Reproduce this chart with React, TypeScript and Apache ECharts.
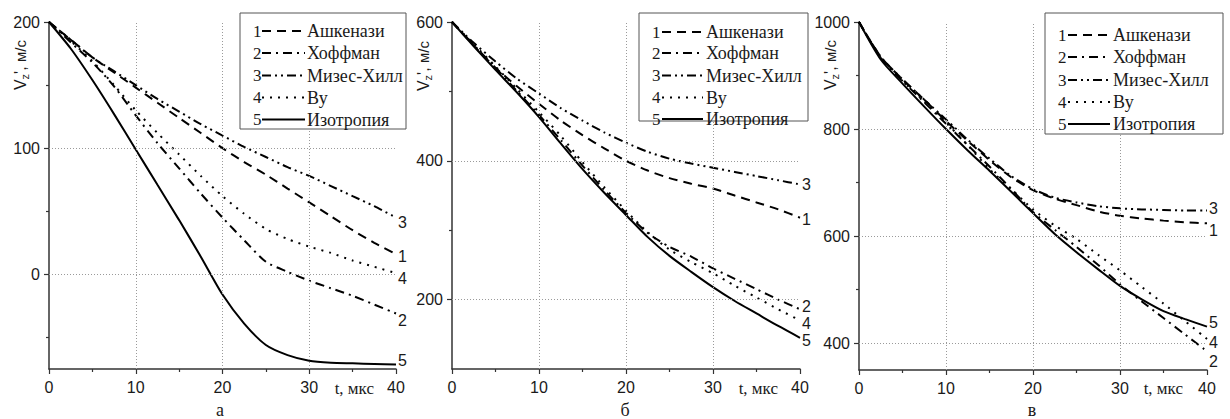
import React, { useEffect, useRef } from "react";
import * as echarts from "echarts";

// ---- data ----
const T = [0, 2.5, 5, 7.5, 10, 12.5, 15, 17.5, 20, 22.5, 25, 27.5, 30, 32.5, 35, 37.5, 40];
const NAMES = ["Ашкенази", "Хоффман", "Мизес-Хилл", "Ву", "Изотропия"];
const NUMS = ["1", "2", "3", "4", "5"];
const X_LABELS = [0, 10, 20, 30, 40];
const X_GRID = [10, 20, 30];
const PANEL_LETTERS = ["а", "б", "в"];
const X_TITLE = "t, мкс";

// panel а
const A1 = [200, 186, 172, 160, 148, 136, 124, 112, 100, 89, 79, 68, 57, 46, 35, 25, 16];
const A2 = [200, 184, 168, 149, 126, 104, 84, 64, 45, 27, 10, 2, -5, -11, -17, -24, -31];
const A3 = [200, 186, 172, 161, 150, 139, 129, 119, 110, 101, 93, 85, 78, 70, 62, 54, 45];
const A4 = [200, 185, 169, 150, 130, 112, 95, 78, 62, 48, 36, 28, 22, 17, 11, 6, 1];
const A5 = [200, 179, 154, 127, 99, 71, 43, 14, -16, -39, -56, -64, -68.5, -70, -70.5, -71, -71.5];
const A_Y_MAJOR = [0, 100, 200];
const A_Y_MINOR = [-50, 50, 150];
const A_Y_GRID = [0, 100];

// panel б
const B1 = [600, 566, 534, 507, 482, 458, 437, 418, 400, 386, 375, 367, 360, 350, 340, 330, 318];
const B2 = [600, 567, 534, 500, 466, 430, 393, 358, 325, 296, 276, 262, 245, 230, 215, 200, 186];
const B3 = [600, 570, 543, 518, 497, 476, 458, 441, 426, 413, 403, 396, 390, 384, 378, 372, 366];
const B4 = [600, 568, 536, 503, 470, 436, 398, 362, 328, 297, 272, 254, 238, 220, 203, 186, 170];
const B5 = [600, 565, 531, 498, 463, 425, 388, 354, 322, 290, 263, 240, 218, 198, 180, 162, 145];
const B_Y_MAJOR = [200, 400, 600];
const B_Y_MINOR = [300, 500];
const B_Y_GRID = [200, 400];

// panel в
const C1 = [1000, 935, 893, 855, 815, 778, 742, 710, 686, 670, 658, 646, 638, 633, 629, 626, 624];
const C2 = [1000, 933, 890, 850, 810, 770, 730, 688, 645, 612, 580, 546, 510, 478, 447, 416, 385];
const C3 = [1000, 935, 893, 855, 818, 780, 745, 712, 688, 672, 663, 656, 652, 650, 649, 648, 648];
const C4 = [1000, 933, 890, 852, 812, 770, 725, 688, 650, 620, 595, 565, 536, 505, 474, 441, 408];
const C5 = [1000, 930, 885, 842, 800, 760, 722, 683, 643, 604, 570, 538, 507, 482, 460, 445, 431];
const C_Y_MAJOR = [400, 600, 800, 1000];
const C_Y_MINOR = [500, 700, 900];
const C_Y_GRID = [400, 600, 800];

// ---- styles / layout ----
const SANS = "Liberation Sans";
const SERIF = "Liberation Serif";
const DASHES: any[] = [[9, 6], [9, 5, 2, 5], [9, 4, 2, 4, 2, 4], [2, 6], "solid"];
const AXIS_COLOR = "#333";
const TEXT_COLOR = "#1a1a1a";

const PANELS = [
  {
    grid: { left: 49, top: 22, width: 347, height: 347 },
    yMin: -75, yMax: 200,
    major: A_Y_MAJOR, minor: A_Y_MINOR, hgrid: A_Y_GRID,
    series: [A1, A2, A3, A4, A5],
    endOff: [[0, 2], [0, 7], [0, 5], [0, 5], [0, -4]],
    legend: { x: 240, y: 13, w: 166, h: 116, numX: 253, l0: 262, l1: 305, tx: 307, rows: [31, 53, 75.5, 97.5, 119.5] },
    yTitle: { x: 20, y: 65 },
    xTitleRight: 374,
    letterX: 220,
  },
  {
    grid: { left: 452, top: 22, width: 348, height: 347 },
    yMin: 100, yMax: 600,
    major: B_Y_MAJOR, minor: B_Y_MINOR, hgrid: B_Y_GRID,
    series: [B1, B2, B3, B4, B5],
    endOff: [[0, 2], [0, -3], [0, 0], [0, 3], [0, 3]],
    legend: { x: 639, y: 13, w: 169, h: 108, numX: 652, l0: 662, l1: 703, tx: 706, rows: [32, 53, 75.5, 97.5, 119] },
    yTitle: { x: 423, y: 66 },
    xTitleRight: 778,
    letterX: 625,
  },
  {
    grid: { left: 859, top: 22, width: 348, height: 348 },
    yMin: 350, yMax: 1000,
    major: C_Y_MAJOR, minor: C_Y_MINOR, hgrid: C_Y_GRID,
    series: [C1, C2, C3, C4, C5],
    endOff: [[0, 7], [0, 10], [0, -2], [0, 4], [0, -4]],
    legend: { x: 1045, y: 13, w: 178, h: 121, numX: 1058, l0: 1068, l1: 1110, tx: 1113, rows: [35, 57, 80, 102, 124] },
    yTitle: { x: 830, y: 65 },
    xTitleRight: 1183,
    letterX: 1032,
  },
];

function buildOption() {
  const grid: any[] = [];
  const xAxis: any[] = [];
  const yAxis: any[] = [];
  const series: any[] = [];
  const graphic: any[] = [];

  PANELS.forEach((p, i) => {
    grid.push({ ...p.grid, containLabel: false });
    xAxis.push({
      gridIndex: i,
      type: "value",
      min: 0,
      max: 40,
      interval: 10,
      axisLine: { show: true, onZero: false, lineStyle: { color: AXIS_COLOR, width: 1.5 } },
      axisTick: { show: true, inside: false, length: 5, lineStyle: { color: AXIS_COLOR, width: 1.2 } },
      minorTick: { show: true, splitNumber: 2, length: 3, lineStyle: { color: AXIS_COLOR, width: 1.2 } },
      splitLine: { show: false },
      axisLabel: {
        customValues: X_LABELS,
        formatter: (v: number) => String(v),
        fontSize: 16, color: TEXT_COLOR, fontFamily: SANS, margin: 10,
      },
    });
    yAxis.push({
      gridIndex: i,
      type: "value",
      position: "left",
      min: p.yMin,
      max: p.yMax,
      axisLine: { show: true, onZero: false, lineStyle: { color: AXIS_COLOR, width: 1.5 } },
      axisTick: { show: true, inside: false, length: 5, customValues: p.major, lineStyle: { color: AXIS_COLOR, width: 1.2 } },
      splitLine: { show: false },
      axisLabel: {
        customValues: p.major,
        formatter: (v: number) => String(v),
        fontSize: 16, color: TEXT_COLOR, fontFamily: SANS, margin: 9,
      },
    });
    yAxis.push({
      gridIndex: i,
      type: "value",
      position: "left",
      min: p.yMin,
      max: p.yMax,
      axisLine: { show: false },
      axisTick: { show: true, inside: false, length: 3, customValues: p.minor, lineStyle: { color: AXIS_COLOR, width: 1.2 } },
      splitLine: { show: false },
      axisLabel: { show: false },
    });

    // grid lines as a background series markLine
    series.push({
      type: "line",
      xAxisIndex: i,
      yAxisIndex: 2 * i,
      data: [],
      z: 1,
      silent: true,
      markLine: {
        silent: true,
        symbol: ["none", "none"],
        label: { show: false },
        lineStyle: { color: "#9a9a9a", type: [1, 2], width: 1 },
        data: [
          ...X_GRID.map((v) => ({ xAxis: v })),
          ...p.hgrid.map((v) => ({ yAxis: v })),
        ],
      },
    });

    p.series.forEach((vals, k) => {
      series.push({
        type: "line",
        name: NAMES[k] + i,
        xAxisIndex: i,
        yAxisIndex: 2 * i,
        data: T.map((t, j) => [t, vals[j]]),
        showSymbol: false,
        smooth: 0.25,
        z: 3,
        lineStyle: { color: "#000", width: 2, type: DASHES[k] },
        endLabel: {
          show: true,
          formatter: NUMS[k],
          fontSize: 16,
          fontFamily: SANS,
          color: TEXT_COLOR,
          distance: 2,
          offset: p.endOff[k],
        },
      });
    });

    // legend
    const L = p.legend;
    graphic.push({
      type: "rect",
      shape: { x: L.x, y: L.y, width: L.w, height: L.h },
      style: { fill: "#fff", stroke: "#555", lineWidth: 1 },
      z: 10,
    });
    NAMES.forEach((nm, k) => {
      const ry = L.rows[k];
      graphic.push({
        type: "text",
        x: L.numX, y: ry,
        style: { text: NUMS[k], fontSize: 17, fontFamily: SERIF, fill: TEXT_COLOR, align: "left", verticalAlign: "middle" },
        z: 11,
      });
      graphic.push({
        type: "line",
        shape: { x1: L.l0, y1: ry, x2: L.l1, y2: ry },
        style: {
          stroke: "#000",
          lineWidth: 2,
          lineDash: DASHES[k] === "solid" ? null : DASHES[k],
        },
        z: 11,
      });
      graphic.push({
        type: "text",
        x: L.tx, y: ry,
        style: { text: nm, fontSize: 18, fontFamily: SERIF, fill: TEXT_COLOR, align: "left", verticalAlign: "middle" },
        z: 11,
      });
    });

    // y title
    graphic.push({
      type: "text",
      x: p.yTitle.x,
      y: p.yTitle.y,
      rotation: Math.PI / 2,
      style: {
        text: "{v|V}{s|z}{v|', }{u|м/с}",
        align: "center",
        verticalAlign: "middle",
        fill: TEXT_COLOR,
        rich: {
          v: { fontSize: 16, fontFamily: SANS, fill: TEXT_COLOR },
          s: { fontSize: 11, fontFamily: SANS, fill: TEXT_COLOR, padding: [10, 0, 0, 0] },
          u: { fontSize: 15, fontFamily: SANS, fill: TEXT_COLOR },
        },
      },
      z: 11,
    });

    // x title
    graphic.push({
      type: "text",
      x: p.xTitleRight,
      y: 388,
      style: { text: X_TITLE, fontSize: 17, fontFamily: SERIF, fill: TEXT_COLOR, align: "right", verticalAlign: "middle" },
      z: 11,
    });

    // panel letter
    graphic.push({
      type: "text",
      x: p.letterX,
      y: 410,
      style: { text: PANEL_LETTERS[i], fontSize: 18, fontFamily: SERIF, fill: TEXT_COLOR, align: "center", verticalAlign: "middle" },
      z: 11,
    });
  });

  return {
    animation: false,
    backgroundColor: "#fff",
    grid,
    xAxis,
    yAxis,
    series,
    graphic,
  };
}

export default function App() {
  const ref = useRef<HTMLDivElement>(null);
  useEffect(() => {
    const chart = echarts.init(ref.current!, null, { renderer: "svg" });
    chart.setOption(buildOption() as any);
    return () => chart.dispose();
  }, []);
  return (
    <div
      ref={ref}
      style={{ position: "absolute", left: 0, top: 0, width: 1230, height: 419 }}
    />
  );
}
